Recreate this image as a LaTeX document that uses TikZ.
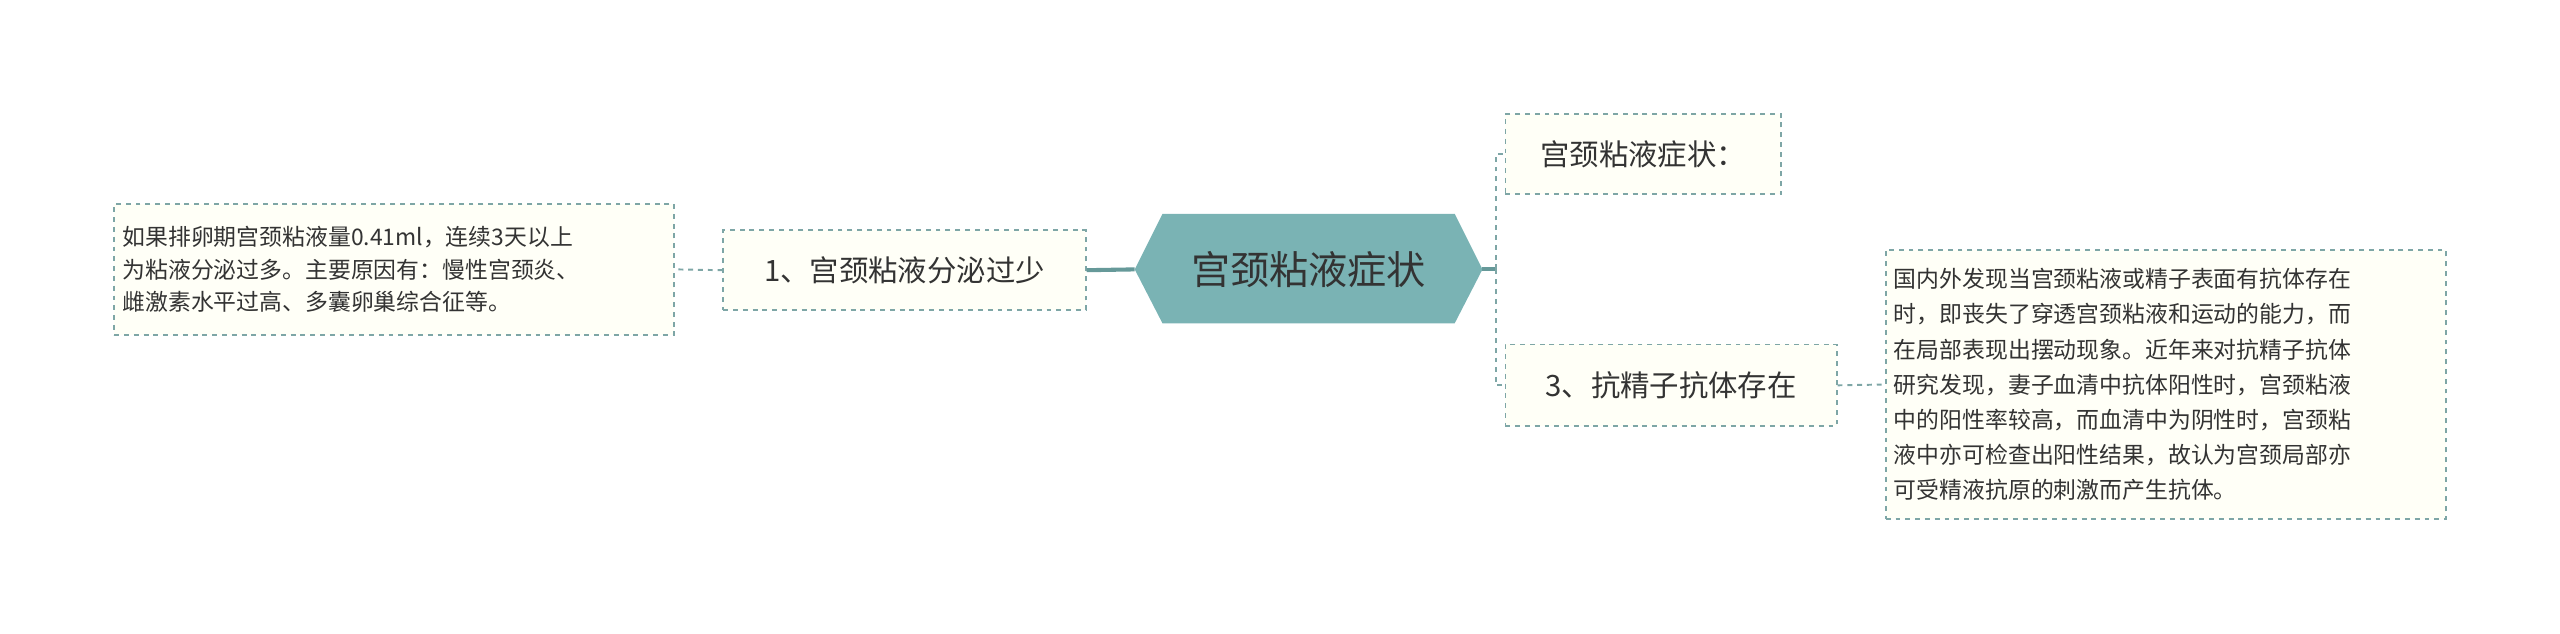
\documentclass[tikz,border=0pt]{standalone}
\usepackage{fontspec}
\setmainfont{Noto Sans CJK SC}
\usetikzlibrary{calc}
\begin{document}
\begin{tikzpicture}[x=1pt,y=-1pt,
  box/.style={draw=teal!45!gray!70, dashed, line width=1pt, fill=yellow!3, inner sep=0pt, align=left, text=black!80},
  conn/.style={draw=teal!45!gray!70, dashed, line width=1.2pt},
  main/.style={draw=teal!50!gray!80, line width=2.5pt}]
\useasboundingbox (0,0) rectangle (1568,388);
\definecolor{hex}{HTML}{7AB3B4}
\fill[hex] (695,165) -- (712,131) -- (891,131) -- (908,165) -- (891,198) -- (712,198) -- cycle;
\node[text=black!80, font=\fontsize{24}{28}\selectfont] (c) at (801.5,165) {宫颈粘液症状};
\coordinate (cl) at (695,165);
\coordinate (cr) at (908,165);
\coordinate (cj) at (916,165);
\node[box, minimum width=222, minimum height=49, align=center, font=\fontsize{18}{22}\selectfont] (l1) at (554,165.5) {1、宫颈粘液分泌过少};
\node[box, minimum width=343, minimum height=80, font=\fontsize{14}{20}\selectfont, text width=333] (l2) at (241.5,165)
 {如果排卵期宫颈粘液量0.41ml，连续3天以上\\为粘液分泌过多。主要原因有：慢性宫颈炎、\\雌激素水平过高、多囊卵巢综合征等。};
\node[box, minimum width=169, minimum height=49, align=center, font=\fontsize{18}{22}\selectfont] (r1) at (1006.5,94.5) {宫颈粘液症状：};
\node[box, minimum width=203, minimum height=50, align=center, font=\fontsize{18}{22}\selectfont] (r2) at (1023.5,236) {3、抗精子抗体存在};
\node[box, minimum width=343, minimum height=165, font=\fontsize{14}{21.5}\selectfont, text width=333] (r3) at (1326.5,235.5)
 {国内外发现当宫颈粘液或精子表面有抗体存在\\时，即丧失了穿透宫颈粘液和运动的能力，而\\在局部表现出摆动现象。近年来对抗精子抗体\\研究发现，妻子血清中抗体阳性时，宫颈粘液\\中的阳性率较高，而血清中为阴性时，宫颈粘\\液中亦可检查出阳性结果，故认为宫颈局部亦\\可受精液抗原的刺激而产生抗体。};
\draw[main] (cl) -- (l1.east);
\draw[conn] (l1.west) -- (l2.east);
\draw[main] (cr) -- (cj);
\draw[conn] (cj) |- (r1.west);
\draw[conn] (cj) |- (r2.west);
\draw[conn] (r2.east) -- (r3.west);
\end{tikzpicture}
\end{document}
